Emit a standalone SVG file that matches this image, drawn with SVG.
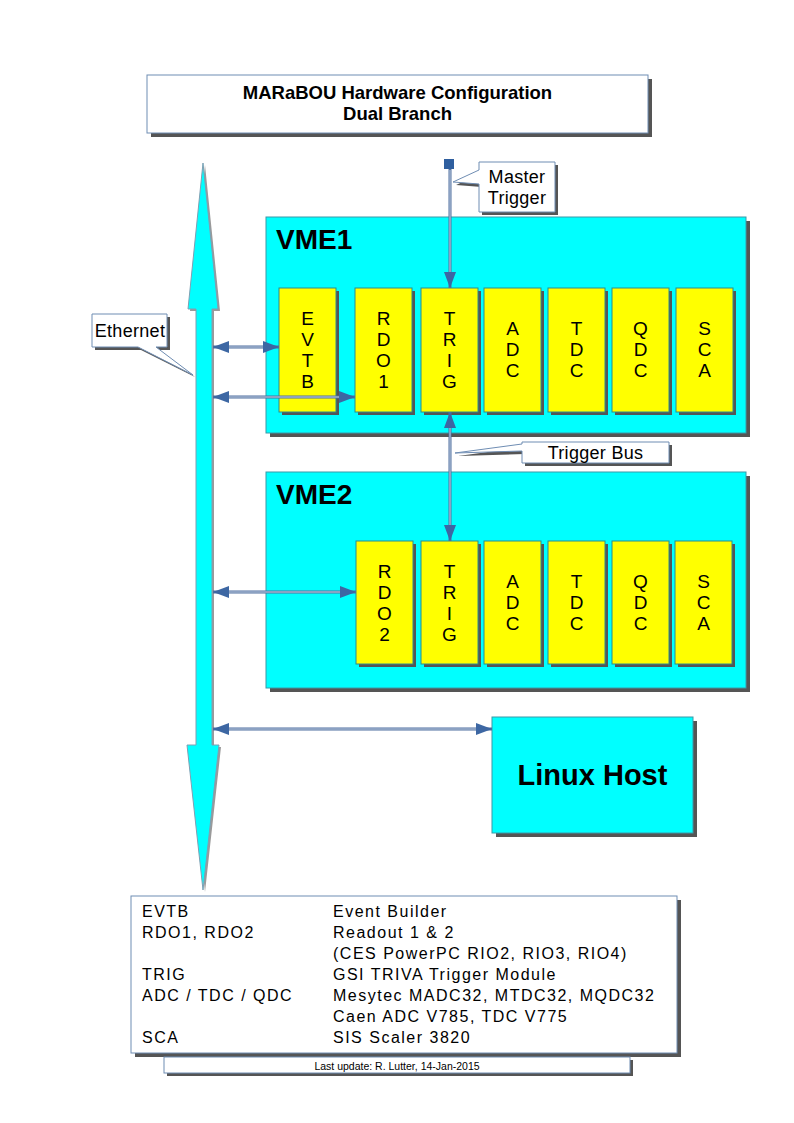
<svg xmlns="http://www.w3.org/2000/svg" width="794" height="1123" viewBox="0 0 794 1123">
<style>
text{font-family:"Liberation Sans",Arial,sans-serif;fill:#000}
.shadow{fill:#555555}
.wbox{fill:#ffffff;stroke:#6f8db3;stroke-width:1}
.vme{fill:#00ffff;stroke:#3a9aa8;stroke-width:1}
.mod{fill:#ffff00;stroke:#2e8c8c;stroke-width:1}
.ml{font-size:19px;text-anchor:middle}
.conn{stroke:#4f6f9f;stroke-width:3;fill:none}
.connhi{stroke:#c9d5e6;stroke-width:1;fill:none}
.leg{font-size:16px;letter-spacing:1.5px}
.call{font-size:18px;letter-spacing:0.3px;text-anchor:middle}
</style>
<defs>
<marker id="ah" viewBox="0 0 16 12" refX="16" refY="6" markerWidth="16" markerHeight="12" markerUnits="userSpaceOnUse" orient="auto-start-reverse">
<path d="M0,0 L16,6 L0,12 z" fill="#3d67a3"/>
</marker>
</defs>

<g id="title">
<rect class="shadow" x="151" y="79" width="501" height="58"/>
<rect class="wbox" x="147" y="75" width="501" height="58"/>
<text x="397.5" y="99" font-size="18.5" font-weight="bold" text-anchor="middle">MARaBOU Hardware Configuration</text>
<text x="397.5" y="120" font-size="18.5" font-weight="bold" text-anchor="middle">Dual Branch</text>
</g>

<g id="ethernet-bus">
<polygon points="205,165 220,311 214,311 214,747 221,747 205,892 189,747 198,747 198,311 190,311" fill="#9a9a9a"/>
<polygon points="203,163 218,309 212,309 212,745 219,745 203,890 187,745 196,745 196,309 188,309" fill="#00ffff" stroke="#7f9fb3" stroke-width="1"/>
</g>

<g id="ethernet-label">
<path d="M95,317 H170 V350 H159 L195,377 L141,350 H95 Z" class="shadow"/>
<path d="M92,314 H167 V347 H156 L193,375 L138,347 H92 Z" class="wbox"/>
<text class="call" x="130" y="337">Ethernet</text>
</g>

<g id="vme1">
<rect class="shadow" x="270" y="221" width="480" height="216"/>
<rect class="vme" x="266" y="217" width="480" height="216"/>
<text x="276" y="249" font-size="28" font-weight="bold">VME1</text>
</g>
<g id="vme1-evtb">
<rect class="shadow" x="282" y="291" width="57" height="124"/>
<rect class="mod" x="279" y="288" width="57" height="124"/>
<text class="ml"><tspan x="307.5" y="325">E</tspan><tspan x="307.5" y="346">V</tspan><tspan x="307.5" y="367">T</tspan><tspan x="307.5" y="388">B</tspan></text>
</g>
<g id="vme1-rdo1">
<rect class="shadow" x="358" y="291" width="57" height="124"/>
<rect class="mod" x="355" y="288" width="57" height="124"/>
<text class="ml"><tspan x="383.5" y="325">R</tspan><tspan x="383.5" y="346">D</tspan><tspan x="383.5" y="367">O</tspan><tspan x="383.5" y="388">1</tspan></text>
</g>
<g id="vme1-trig">
<rect class="shadow" x="424" y="291" width="57" height="124"/>
<rect class="mod" x="421" y="288" width="57" height="124"/>
<text class="ml"><tspan x="449.5" y="325">T</tspan><tspan x="449.5" y="346">R</tspan><tspan x="449.5" y="367">I</tspan><tspan x="449.5" y="388">G</tspan></text>
</g>
<g id="vme1-adc">
<rect class="shadow" x="487" y="291" width="57" height="124"/>
<rect class="mod" x="484" y="288" width="57" height="124"/>
<text class="ml"><tspan x="512.5" y="335">A</tspan><tspan x="512.5" y="356">D</tspan><tspan x="512.5" y="377">C</tspan></text>
</g>
<g id="vme1-tdc">
<rect class="shadow" x="551" y="291" width="57" height="124"/>
<rect class="mod" x="548" y="288" width="57" height="124"/>
<text class="ml"><tspan x="576.5" y="335">T</tspan><tspan x="576.5" y="356">D</tspan><tspan x="576.5" y="377">C</tspan></text>
</g>
<g id="vme1-qdc">
<rect class="shadow" x="615" y="291" width="57" height="124"/>
<rect class="mod" x="612" y="288" width="57" height="124"/>
<text class="ml"><tspan x="640.5" y="335">Q</tspan><tspan x="640.5" y="356">D</tspan><tspan x="640.5" y="377">C</tspan></text>
</g>
<g id="vme1-sca">
<rect class="shadow" x="679" y="291" width="57" height="124"/>
<rect class="mod" x="676" y="288" width="57" height="124"/>
<text class="ml"><tspan x="704.5" y="335">S</tspan><tspan x="704.5" y="356">C</tspan><tspan x="704.5" y="377">A</tspan></text>
</g>

<g id="vme2">
<rect class="shadow" x="270" y="476" width="480" height="216"/>
<rect class="vme" x="266" y="472" width="480" height="216"/>
<text x="276" y="504" font-size="28" font-weight="bold">VME2</text>
</g>
<g id="vme2-rdo2">
<rect class="shadow" x="359" y="544" width="57" height="123"/>
<rect class="mod" x="356" y="541" width="57" height="123"/>
<text class="ml"><tspan x="384.5" y="578">R</tspan><tspan x="384.5" y="599">D</tspan><tspan x="384.5" y="620">O</tspan><tspan x="384.5" y="641">2</tspan></text>
</g>
<g id="vme2-trig">
<rect class="shadow" x="424" y="544" width="57" height="123"/>
<rect class="mod" x="421" y="541" width="57" height="123"/>
<text class="ml"><tspan x="449.5" y="578">T</tspan><tspan x="449.5" y="599">R</tspan><tspan x="449.5" y="620">I</tspan><tspan x="449.5" y="641">G</tspan></text>
</g>
<g id="vme2-adc">
<rect class="shadow" x="487" y="544" width="57" height="123"/>
<rect class="mod" x="484" y="541" width="57" height="123"/>
<text class="ml"><tspan x="512.5" y="588">A</tspan><tspan x="512.5" y="609">D</tspan><tspan x="512.5" y="630">C</tspan></text>
</g>
<g id="vme2-tdc">
<rect class="shadow" x="551" y="544" width="57" height="123"/>
<rect class="mod" x="548" y="541" width="57" height="123"/>
<text class="ml"><tspan x="576.5" y="588">T</tspan><tspan x="576.5" y="609">D</tspan><tspan x="576.5" y="630">C</tspan></text>
</g>
<g id="vme2-qdc">
<rect class="shadow" x="615" y="544" width="57" height="123"/>
<rect class="mod" x="612" y="541" width="57" height="123"/>
<text class="ml"><tspan x="640.5" y="588">Q</tspan><tspan x="640.5" y="609">D</tspan><tspan x="640.5" y="630">C</tspan></text>
</g>
<g id="vme2-sca">
<rect class="shadow" x="678" y="544" width="57" height="123"/>
<rect class="mod" x="675" y="541" width="57" height="123"/>
<text class="ml"><tspan x="703.5" y="588">S</tspan><tspan x="703.5" y="609">C</tspan><tspan x="703.5" y="630">A</tspan></text>
</g>

<g id="linux-host">
<rect class="shadow" x="496" y="721" width="201" height="116"/>
<rect class="vme" x="492" y="717" width="201" height="116"/>
<text x="592.5" y="785" font-size="29" font-weight="bold" text-anchor="middle">Linux Host</text>
</g>

<g id="master-trigger">
<rect x="444" y="159" width="10" height="10" fill="#2f5f9f"/>
</g>

<g id="connectors">
<line class="conn" x1="213" y1="347" x2="279" y2="347" marker-start="url(#ah)" marker-end="url(#ah)"/>
<line class="connhi" x1="229" y1="347" x2="263" y2="347"/>
<line class="conn" x1="213" y1="397" x2="355" y2="397" marker-start="url(#ah)" marker-end="url(#ah)"/>
<line class="connhi" x1="229" y1="397" x2="339" y2="397"/>
<line class="conn" x1="213" y1="592" x2="356" y2="592" marker-start="url(#ah)" marker-end="url(#ah)"/>
<line class="connhi" x1="229" y1="592" x2="340" y2="592"/>
<line class="conn" x1="213" y1="729" x2="492" y2="729" marker-start="url(#ah)" marker-end="url(#ah)"/>
<line class="connhi" x1="229" y1="729" x2="476" y2="729"/>
<line class="conn" x1="450" y1="169" x2="450" y2="288" marker-end="url(#ah)"/>
<line class="connhi" x1="450" y1="170" x2="450" y2="272"/>
<line class="conn" x1="450" y1="412" x2="450" y2="541" marker-start="url(#ah)" marker-end="url(#ah)"/>
<line class="connhi" x1="450" y1="428" x2="450" y2="525"/>
</g>

<g id="master-trigger-label">
<path d="M482,165 H558 V215 H482 V187 L456,185 L482,173 Z" class="shadow"/>
<path d="M479,162 H555 V212 H479 V184 L453,182 L479,170 Z" class="wbox"/>
<text class="call" x="517" y="183">Master</text>
<text class="call" x="517" y="204">Trigger</text>
</g>

<g id="trigger-bus-label">
<path d="M525,445 H672 V466 H525 V454 L458,456 L525,447 Z" class="shadow"/>
<path d="M522,442 H669 V463 H522 V451 L455,453 L522,444 Z" class="wbox"/>
<text class="call" x="595.5" y="459">Trigger Bus</text>
</g>

<g id="legend">
<rect class="shadow" x="135" y="900" width="546" height="157"/>
<rect class="wbox" x="131" y="896" width="546" height="157"/>
<text class="leg" x="142" y="917">EVTB</text>
<text class="leg" x="142" y="938">RDO1, RDO2</text>
<text class="leg" x="142" y="980">TRIG</text>
<text class="leg" x="142" y="1001">ADC / TDC / QDC</text>
<text class="leg" x="142" y="1043">SCA</text>
<text class="leg" x="333" y="917">Event Builder</text>
<text class="leg" x="333" y="938">Readout 1 &amp; 2</text>
<text class="leg" x="333" y="959">(CES PowerPC RIO2, RIO3, RIO4)</text>
<text class="leg" x="333" y="980">GSI TRIVA Trigger Module</text>
<text class="leg" x="333" y="1001">Mesytec MADC32, MTDC32, MQDC32</text>
<text class="leg" x="333" y="1022">Caen ADC V785, TDC V775</text>
<text class="leg" x="333" y="1043">SIS Scaler 3820</text>
</g>

<g id="footer">
<rect class="shadow" x="167" y="1060" width="466" height="16"/>
<rect class="wbox" x="164" y="1057" width="466" height="16"/>
<text x="397" y="1069.5" font-size="10.5" text-anchor="middle">Last update: R. Lutter, 14-Jan-2015</text>
</g>
</svg>
